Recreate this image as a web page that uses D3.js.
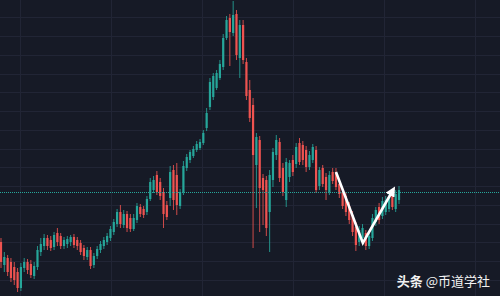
<!DOCTYPE html>
<html>
<head>
<meta charset="utf-8">
<script src="https://cdn.jsdelivr.net/npm/d3@7"></script>
<style>
  html, body { margin: 0; padding: 0; background: #161a26; overflow: hidden; }
  svg { display: block; }
</style>
</head>
<body>
<div id="container"></div>
<script>
// candle values, one entry per bar (arbitrary price units)
var open  = [54,31,38,34,29,24,8,28,34,32,20,29,44,50,58,56,49,63,60,50,52,54,59,56,53,48,39,46,31,40,46,50,54,58,64,72,84,71,82,78,67,76,89,87,84,97,106,121,114,104,91,98,126,121,90,104,128,136,140,146,148,153,168,189,199,208,218,229,258,278,263,282,238,271,234,206,191,131,156,118,116,84,116,141,154,128,96,119,136,132,153,151,146,129,136,146,110,128,119,104,124,124,112,104,100,90,81,69,54,58,63,50,58,74,89,80,84,87,103,87,96];
var high  = [58,44,41,38,34,28,33,38,37,36,34,50,58,62,61,60,64,68,63,59,60,61,62,59,56,51,49,49,43,50,55,59,63,70,77,87,91,86,85,82,82,93,92,90,100,118,120,125,118,108,95,130,131,133,107,135,142,146,150,155,157,166,188,218,223,226,236,262,280,282,295,286,276,276,238,216,198,163,160,122,120,126,148,161,158,133,138,136,141,153,158,155,150,145,152,150,129,131,123,125,128,128,116,108,104,94,85,74,70,72,66,64,82,89,93,99,100,103,106,106,110];
var low   = [28,24,20,14,11,4,5,24,22,18,17,26,40,46,46,45,46,50,47,47,48,50,48,46,41,36,36,27,28,37,43,47,51,55,61,69,68,68,64,64,65,73,79,78,81,95,103,101,96,68,76,90,86,81,87,101,125,133,138,144,146,151,165,186,196,206,216,226,256,230,260,236,218,232,196,174,48,88,64,71,60,44,109,136,114,100,89,114,120,128,131,131,124,126,133,103,106,109,96,101,112,106,98,87,80,72,60,45,50,54,46,47,55,70,72,77,81,84,86,84,92];
var close = [34,39,24,18,16,8,29,34,26,21,30,46,52,58,50,48,61,54,50,56,57,59,51,50,44,40,46,30,40,47,52,56,60,67,74,84,72,82,68,67,78,90,82,81,97,114,116,104,100,82,79,124,96,91,104,130,139,144,147,152,154,163,183,214,220,223,232,258,276,264,281,241,271,236,200,178,141,159,108,106,68,121,144,156,118,104,134,133,124,149,134,136,129,141,149,106,126,112,106,121,115,109,102,90,84,76,64,51,66,68,50,60,78,86,76,95,96,99,89,102,106];

// dotted reference level and hand drawn V path (bar index, price)
var refLevel = 104;
var vPath = [[101, 124], [109.1, 53], [118.2, 106]];
var watermark = ["头条", " @币道学社"];

var width = 500, height = 296;
var up = "#26a69a", down = "#ef5350";

var x = d3.scaleLinear().domain([0, open.length - 1]).range([1, 399]);
var y = d3.scaleLinear().domain([0, 296]).range([height, 0]);

var svg = d3.select("#container").append("svg")
    .attr("width", width)
    .attr("height", height);

svg.append("rect")
    .attr("width", width)
    .attr("height", height)
    .style("fill", "#161a26");

// grid
var gGrid = svg.append("g").attr("class", "grid");
gGrid.selectAll(".hline")
    .data(d3.range(278.7, -1, -18.75))
  .enter().append("line")
    .attr("class", "hline")
    .attr("x1", 0).attr("x2", width)
    .attr("y1", function(d) { return Math.round(y(d)) + 0.5; })
    .attr("y2", function(d) { return Math.round(y(d)) + 0.5; })
    .style("stroke", "#212535");
gGrid.selectAll(".vline")
    .data(d3.range(5.7, 150, 27.43))
  .enter().append("line")
    .attr("class", "vline")
    .attr("y1", 0).attr("y2", height)
    .attr("x1", function(d) { return Math.round(x(d)) + 0.5; })
    .attr("x2", function(d) { return Math.round(x(d)) + 0.5; })
    .style("stroke", "#212535");

// candles
var candle = svg.append("g")
  .selectAll(".candle")
    .data(d3.range(open.length))
  .enter().append("g")
    .attr("class", "candle")
    .style("fill", function(i) { return close[i] >= open[i] ? up : down; })
    .style("stroke", function(i) { return close[i] >= open[i] ? up : down; });

candle.append("line")
    .attr("x1", function(i) { return x(i); })
    .attr("x2", function(i) { return x(i); })
    .attr("y1", function(i) { return y(high[i]); })
    .attr("y2", function(i) { return y(low[i]); })
    .style("stroke-width", 1)
    .style("stroke-opacity", 0.85);

candle.append("rect")
    .attr("x", function(i) { return x(i) - 1.1; })
    .attr("width", 2.2)
    .attr("y", function(i) { return y(Math.max(open[i], close[i])); })
    .attr("height", function(i) { return Math.max(1, Math.abs(y(open[i]) - y(close[i]))); })
    .style("stroke", "none");

// dotted level
svg.append("line")
    .attr("x1", 0).attr("x2", width)
    .attr("y1", Math.round(y(refLevel)) + 0.5)
    .attr("y2", Math.round(y(refLevel)) + 0.5)
    .style("stroke", up)
    .style("stroke-width", 1.2)
    .style("stroke-dasharray", "1,1");

// white V arrow
svg.append("defs").append("marker")
    .attr("id", "head")
    .attr("viewBox", "0 0 10 10")
    .attr("refX", 6).attr("refY", 5)
    .attr("markerUnits", "userSpaceOnUse")
    .attr("markerWidth", 10).attr("markerHeight", 10)
    .attr("orient", "auto")
  .append("path")
    .attr("d", "M0,0L10,5L0,10z")
    .style("fill", "#ffffff");

svg.append("path")
    .datum(vPath)
    .attr("d", d3.line()
        .x(function(d) { return x(d[0]); })
        .y(function(d) { return y(d[1]); }))
    .attr("marker-end", "url(#head)")
    .style("fill", "none")
    .style("stroke", "#ffffff")
    .style("stroke-width", 2.6)
    .style("stroke-linejoin", "miter");

// watermark
var wm = svg.append("text")
    .attr("x", 490)
    .attr("y", 286)
    .attr("text-anchor", "end")
    .style("font-family", "'Noto Sans CJK SC', sans-serif")
    .style("font-size", "13px")
    .style("fill", "#f2f2f2");
wm.append("tspan").style("font-weight", "bold").text(watermark[0]);
wm.append("tspan").text(watermark[1]);
</script>
</body>
</html>
